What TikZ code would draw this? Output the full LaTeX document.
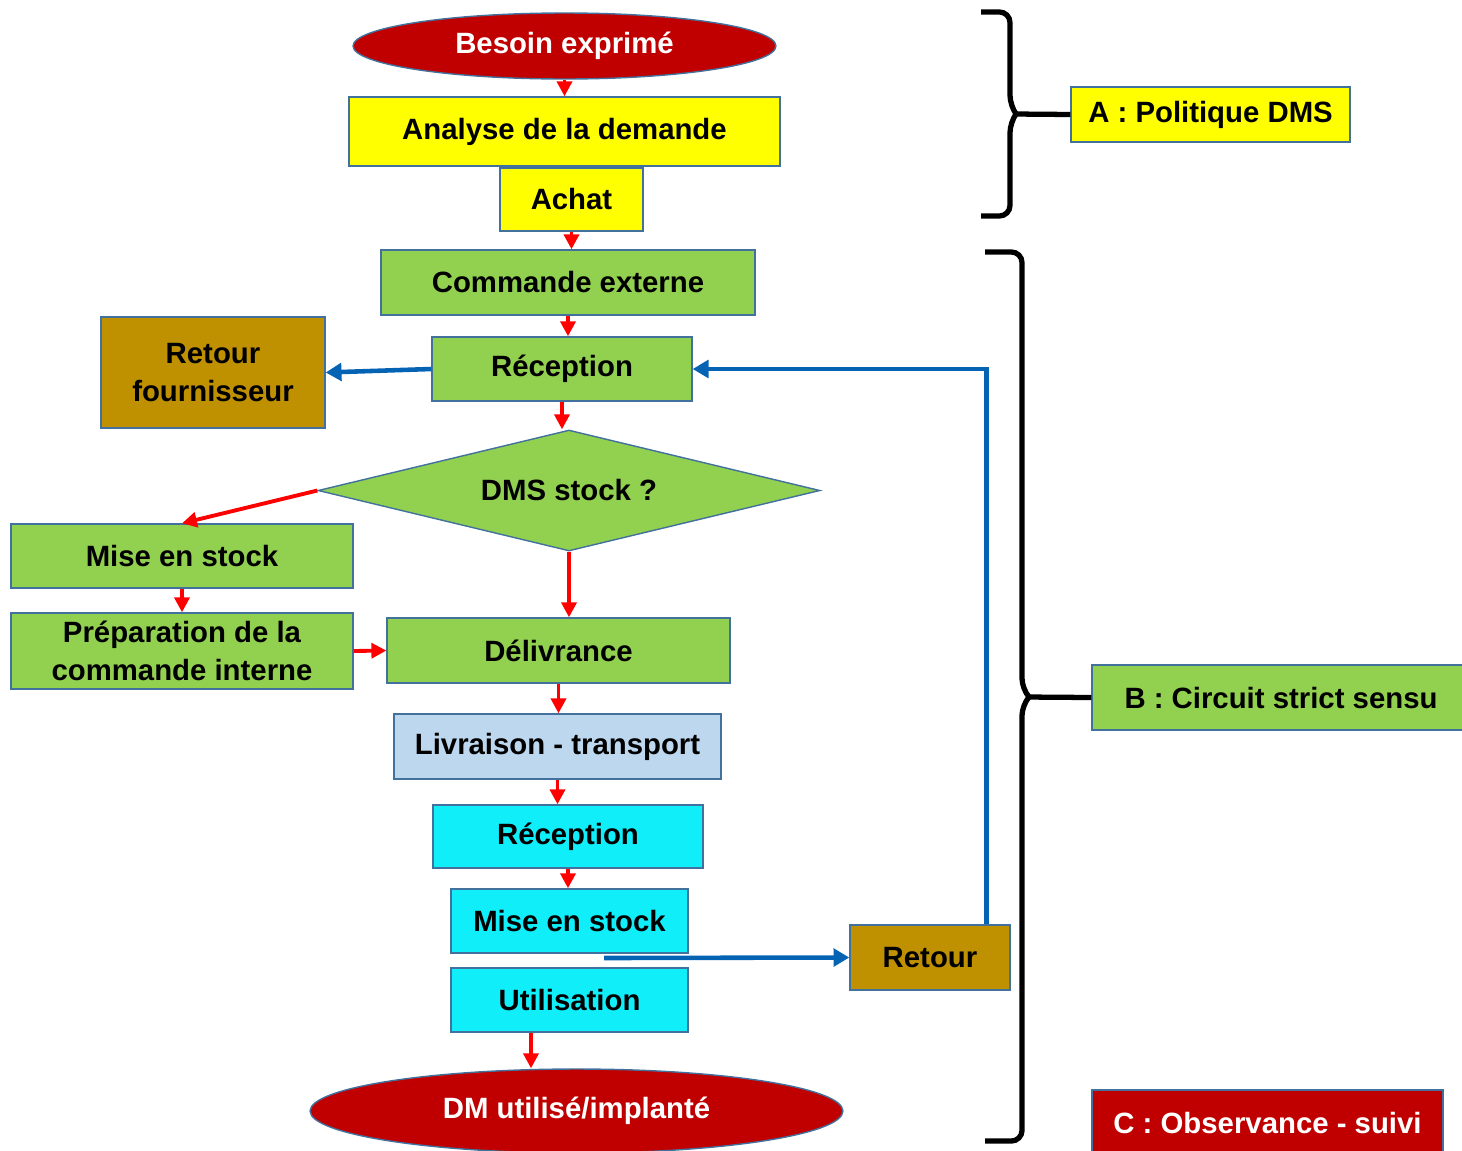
\documentclass[tikz,border=0pt]{standalone}
\usepackage{fontspec}
\setmainfont{Liberation Sans}
\usepackage{tikz}
\usetikzlibrary{arrows.meta,shapes.geometric}
\definecolor{dmsRed}{HTML}{C00000}
\definecolor{dmsYellow}{HTML}{FFFF00}
\definecolor{dmsGreen}{HTML}{92D050}
\definecolor{dmsBrown}{HTML}{BF9000}
\definecolor{dmsSky}{HTML}{BDD7EE}
\definecolor{dmsCyan}{HTML}{10EEFA}
\definecolor{dmsEdge}{HTML}{41719C}
\definecolor{dmsArrow}{HTML}{FF0000}
\definecolor{dmsBlue}{HTML}{0563B4}

\begin{document}
\begin{tikzpicture}[x=0.02cm,y=-0.02cm,
    font=\fontsize{16.7}{21.5}\selectfont\bfseries,
    box/.style={draw=dmsEdge,line width=0.8pt,align=center,inner sep=2pt},
    wh/.style 2 args={minimum width=#1,minimum height=#2},
    oval/.style={box,ellipse,fill=dmsRed,text=white},
    redarr/.style={draw=dmsArrow,line width=2.2pt,-{Triangle[length=8.5pt,width=8.5pt]}},
    bluearr/.style={draw=dmsBlue,line width=2.6pt,-{Triangle[length=9pt,width=10pt]}},
    bracket/.style={draw=black,line width=3pt,rounded corners=6pt}]
  \useasboundingbox (0,0) rectangle (1462,1150);
  \clip (0,0) rectangle (1462,1150);

  % main flow
  \node[oval,wh={8.46cm}{1.32cm}] (besoin) at (564.5,46) {Besoin exprimé};
  \node[box,fill=dmsYellow,wh={8.62cm}{1.38cm}] (analyse) at (564.5,131.5) {Analyse de la demande};
  \node[box,fill=dmsYellow,wh={2.86cm}{1.26cm}] (achat) at (571.5,199.5) {Achat};
  \node[box,fill=dmsGreen,wh={7.48cm}{1.30cm}] (cmdext) at (568,282.5) {Commande externe};
  \node[box,fill=dmsGreen,wh={5.20cm}{1.28cm}] (recep1) at (562,369) {Réception};
  \node[box,fill=dmsBrown,wh={4.48cm}{2.22cm}] (retfour) at (213,372.5) {Retour\\fournisseur};
  \node[box,diamond,aspect=4.15,inner sep=0pt,fill=dmsGreen,wh={10.04cm}{2.42cm}] (dms) at (569,490.5) {DMS stock ?};
  \node[box,fill=dmsGreen,wh={6.84cm}{1.28cm}] (mstk1) at (182,556) {Mise en stock};
  \node[box,fill=dmsGreen,wh={6.84cm}{1.52cm}] (prep) at (182,651) {Préparation de la\\commande interne};
  \node[box,fill=dmsGreen,wh={6.86cm}{1.30cm}] (deliv) at (558.5,650.5) {Délivrance};
  \node[box,fill=dmsSky,wh={6.54cm}{1.30cm}] (livr) at (557.5,746.5) {Livraison - transport};
  \node[box,fill=dmsCyan,wh={5.40cm}{1.26cm}] (recep2) at (568,836.5) {Réception};
  \node[box,fill=dmsCyan,wh={4.74cm}{1.28cm}] (mstk2) at (569.5,921) {Mise en stock};
  \node[box,fill=dmsCyan,wh={4.74cm}{1.28cm}] (util) at (569.5,1000) {Utilisation};
  \node[oval,wh={10.66cm}{1.68cm}] (dmutil) at (576.5,1111) {DM utilisé/implanté};
  \node[box,fill=dmsBrown,wh={3.20cm}{1.30cm}] (retour) at (930,957.5) {Retour};

  % phases
  \node[box,fill=dmsYellow,wh={5.58cm}{1.10cm}] (polA) at (1210.5,114.5) {A : Politique DMS};
  \node[box,fill=dmsGreen,wh={7.56cm}{1.30cm}] (circB) at (1281,697.5) {B : Circuit strict sensu};
  \node[box,fill=dmsRed,text=white,wh={7.02cm}{1.30cm}] (obsC) at (1267.5,1122.5) {C : Observance - suivi};

  \foreach \a/\b in {besoin/analyse,achat/cmdext,cmdext/recep1,recep1/dms,dms/deliv,
                     mstk1/prep,deliv/livr,livr/recep2,recep2/mstk2}
    \draw[redarr] (\a.south) -- (\a.south |- \b.north);
  \draw[redarr] (dms.west) -- (mstk1.north);
  \draw[redarr] (prep.east) -- (deliv.west);
  \draw[redarr] ([xshift=-0.77cm]util.south) -- ([xshift=-0.77cm]util.south |- dmutil.north);

  \coordinate (mout) at (604,958);
  \draw[bluearr] (recep1.west) -- (retfour.east);
  \draw[bluearr] (mout) -- (retour.west);
  \draw[bluearr] ([xshift=-0.48cm]retour.north east) |- (recep1.east);

  % brackets
  \draw[bracket] (981,12) -- (1010,12) -- (1010,106) -- (1016,114);
  \draw[bracket] (1016,114) -- (1010,122) -- (1010,216) -- (981,216);
  \draw[bracket,rounded corners=0pt] (1014,114) -- (polA.west);
  \draw[bracket] (985,252) -- (1022,252) -- (1022,689) -- (1029,697);
  \draw[bracket] (1029,697) -- (1022,705) -- (1022,1141) -- (985,1141);
  \draw[bracket,rounded corners=0pt] (1026,697) -- (circB.west);
\end{tikzpicture}
\end{document}
